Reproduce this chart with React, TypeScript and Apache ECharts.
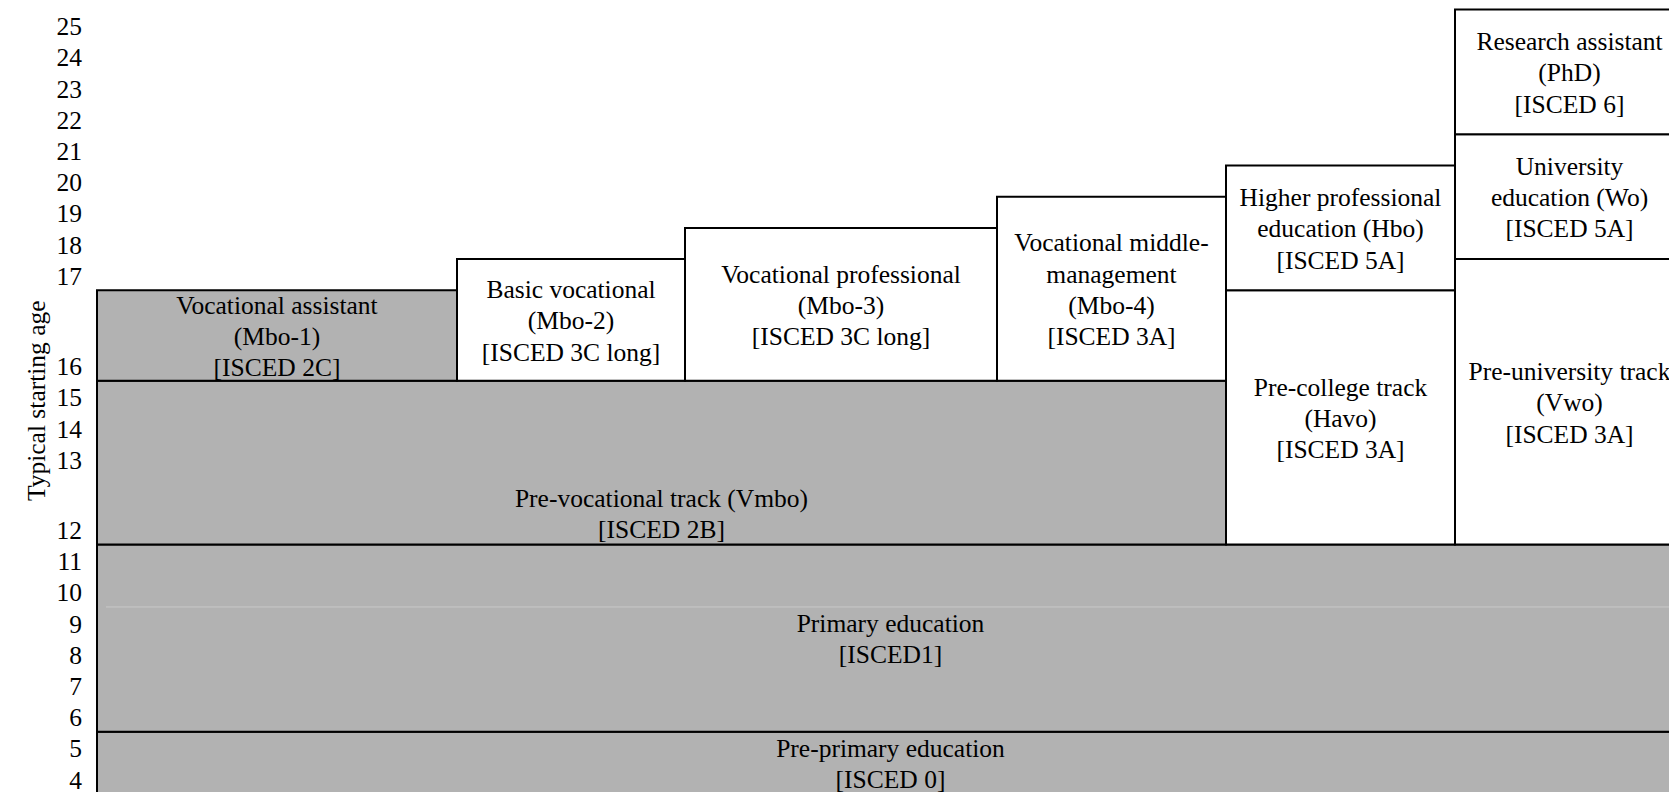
import React, { useEffect, useRef } from "react";
import * as echarts from "echarts";

const FONT = "Liberation Serif";
const FONT_SIZE = 25.5;
const LINE_HEIGHT = 31.2;
const GREY = "#b2b2b2";

// Age tick labels (top to bottom) and the height of each age row, in text lines
const ages = [25, 24, 23, 22, 21, 20, 19, 18, 17, 16, 15, 14, 13, 12, 11, 10, 9, 8, 7, 6, 5, 4];
const ageRowLines = [1, 1, 1, 1, 1, 1, 1, 1, 1, 2.9, 1, 1, 1, 2.25, 1, 1, 1, 1, 1, 1, 1, 1];

// Table columns (relative widths); the last one runs past the page edge
const columnWidths = [360, 228, 312, 229, 229, 229];

// Programmes
const programmes = [
  "Pre-primary education\n[ISCED 0]",
  "Primary education\n[ISCED1]",
  "Pre-vocational track (Vmbo)\n[ISCED 2B]",
  "Vocational assistant\n(Mbo-1)\n[ISCED 2C]",
  "Basic vocational\n(Mbo-2)\n[ISCED 3C long]",
  "Vocational professional\n(Mbo-3)\n[ISCED 3C long]",
  "Vocational middle-\nmanagement\n(Mbo-4)\n[ISCED 3A]",
  "Pre-college track\n(Havo)\n[ISCED 3A]",
  "Higher professional\neducation (Hbo)\n[ISCED 5A]",
  "Pre-university track\n(Vwo)\n[ISCED 3A]",
  "University\neducation (Wo)\n[ISCED 5A]",
  "Research assistant\n(PhD)\n[ISCED 6]",
];
const startAge = [4, 6, 12, 16, 16, 16, 16, 12, 17, 12, 18, 22];
const endAge = [5, 11, 15, 16, 17, 18, 19, 16, 20, 17, 21, 25];
const firstColumn = [0, 0, 0, 0, 1, 2, 3, 4, 4, 5, 5, 5];
const lastColumn = [5, 5, 3, 0, 1, 2, 3, 4, 4, 5, 5, 5];
const shaded = [true, true, true, true, false, false, false, false, false, false, false, false];
const textAnchor = ["middle", "middle", "bottom", "middle", "middle", "middle", "middle", "middle", "middle", "middle", "middle", "middle"];

// faint row divider inside primary education (between ages 10 and 9)
const faintDividerAbove = [9];

// visible window of the table (x units, text lines)
const VISIBLE_X = 1572;
const VISIBLE_LINES = 25.08;

export default function App() {
  const ref = useRef<HTMLDivElement>(null);

  useEffect(() => {
    if (!ref.current) return;
    const chart = echarts.init(ref.current, null, { renderer: "svg" });

    const rowTop: number[] = [];
    const rowBottom: number[] = [];
    let acc = 0;
    ageRowLines.forEach((l) => {
      rowTop.push(acc);
      acc += l;
      rowBottom.push(acc);
    });
    const idx = (age: number) => ages.indexOf(age);

    const colEdges: number[] = [0];
    columnWidths.forEach((w) => colEdges.push(colEdges[colEdges.length - 1] + w));
    const xMax = colEdges[colEdges.length - 1];

    const boxData = programmes.map((_, i) => [
      colEdges[firstColumn[i]],
      colEdges[lastColumn[i] + 1],
      rowTop[idx(endAge[i])],
      rowBottom[idx(startAge[i])],
    ]);

    const labelData = ages.map((a, i) => [rowBottom[i] - 0.5, a]);

    const dividerData = faintDividerAbove.map((a) => [0, xMax, rowTop[idx(a)]]);

    const option: any = {
      animation: false,
      backgroundColor: "#ffffff",
      grid: {
        left: 97,
        top: 9.5,
        width: VISIBLE_X,
        height: VISIBLE_LINES * LINE_HEIGHT,
        containLabel: false,
      },
      xAxis: { type: "value", min: 0, max: VISIBLE_X, show: false },
      yAxis: {
        type: "value",
        inverse: true,
        min: 0,
        max: VISIBLE_LINES,
        name: "Typical starting age",
        nameLocation: "middle",
        nameRotate: 90,
        nameGap: 48,
        nameTextStyle: { fontFamily: FONT, fontSize: FONT_SIZE, color: "#000" },
        axisLine: { show: false },
        axisTick: { show: false },
        axisLabel: { show: false },
        splitLine: { show: false },
      },
      series: [
        {
          type: "custom",
          name: "programmes",
          data: boxData,
          clip: false,
          renderItem: (params: any, api: any) => {
            const i = params.dataIndex;
            const p0 = api.coord([api.value(0), api.value(2)]);
            const p1 = api.coord([api.value(1), api.value(3)]);
            const x = p0[0];
            const y = p0[1];
            const w = p1[0] - p0[0];
            const h = p1[1] - p0[1];
            const anchor = textAnchor[i];
            return {
              type: "group",
              children: [
                {
                  type: "rect",
                  shape: { x, y, width: w, height: h },
                  style: { fill: shaded[i] ? GREY : "#ffffff", stroke: "#000", lineWidth: 2 },
                },
                {
                  type: "text",
                  x: x + w / 2,
                  y: anchor === "bottom" ? y + h + 1 : y + h / 2 + 1,
                  style: {
                    text: programmes[i],
                    fill: "#000",
                    fontFamily: FONT,
                    fontSize: FONT_SIZE,
                    lineHeight: LINE_HEIGHT,
                    align: "center",
                    verticalAlign: anchor,
                  },
                },
              ],
            };
          },
        },
        {
          type: "custom",
          name: "divider",
          data: dividerData,
          clip: false,
          renderItem: (params: any, api: any) => {
            const p0 = api.coord([api.value(0), api.value(2)]);
            const p1 = api.coord([api.value(1), api.value(2)]);
            return {
              type: "line",
              shape: { x1: p0[0] + 9, y1: p0[1], x2: p1[0], y2: p1[1] },
              style: { stroke: "#c8c8c8", lineWidth: 1 },
            };
          },
        },
        {
          type: "custom",
          name: "ages",
          data: labelData,
          clip: false,
          renderItem: (params: any, api: any) => {
            const p = api.coord([0, api.value(0)]);
            return {
              type: "text",
              x: p[0] - 15,
              y: p[1] + 1.5,
              style: {
                text: String(api.value(1)),
                fill: "#000",
                fontFamily: FONT,
                fontSize: FONT_SIZE,
                align: "right",
                verticalAlign: "middle",
              },
            };
          },
        },
      ],
    };

    chart.setOption(option);
    return () => chart.dispose();
  }, []);

  return (
    <div
      ref={ref}
      style={{ position: "absolute", left: 0, top: 0, width: 1669, height: 792, background: "#fff" }}
    />
  );
}
